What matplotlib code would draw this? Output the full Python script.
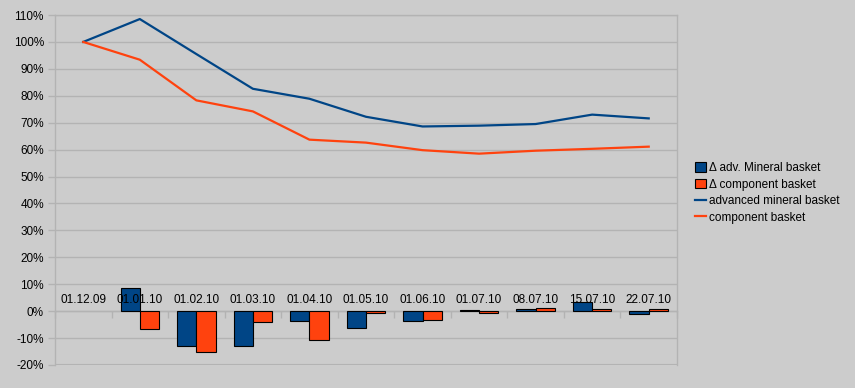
import numpy as np
import matplotlib.pyplot as plt
from matplotlib.transforms import blended_transform_factory

plt.rcParams['font.family'] = ['Liberation Sans', 'DejaVu Sans']

# Data
dates = ['01.12.09', '01.01.10', '01.02.10', '01.03.10', '01.04.10', '01.05.10',
         '01.06.10', '01.07.10', '08.07.10', '15.07.10', '22.07.10']
adv_mineral = [100, 108.5, 95.5, 82.6, 78.9, 72.2, 68.6, 68.9, 69.5, 73.0, 71.6]
component = [100, 93.4, 78.3, 74.2, 63.7, 62.6, 59.8, 58.5, 59.6, 60.3, 61.1]
d_adv_mineral = [np.nan, 8.5, -13.0, -13.0, -3.7, -6.3, -3.7, 0.3, 0.7, 3.3, -1.1]
d_component = [np.nan, -6.7, -15.2, -4.1, -10.8, -0.7, -3.3, -0.7, 1.1, 0.7, 0.7]

blue = '#004586'
orange = '#ff420e'
bg = '#cccccc'
grid_c = '#b3b3b3'

fig = plt.figure(figsize=(8.55, 3.88), dpi=100, facecolor=bg)
ax = fig.add_axes([0.0643, 0.0593, 0.7275, 0.902])
ax.set_facecolor(bg)

x = np.arange(len(dates))
w = 0.34
b1 = ax.bar(x - w / 2, d_adv_mineral, w, color=blue, edgecolor='black', linewidth=0.8,
            label='\u0394 adv. Mineral basket', zorder=3)
b2 = ax.bar(x + w / 2, d_component, w, color=orange, edgecolor='black', linewidth=0.8,
            label='\u0394 component basket', zorder=3)
l1, = ax.plot(x, adv_mineral, color=blue, lw=1.6, label='advanced mineral basket', zorder=4)
l2, = ax.plot(x, component, color=orange, lw=1.6, label='component basket', zorder=4)

ax.set_xlim(-0.5, len(dates) - 0.5)
ax.set_ylim(-20, 110)
ax.set_yticks(np.arange(-20, 111, 10))
ax.set_yticklabels([f'{v}%' for v in range(-20, 111, 10)], fontsize=8.5)
ax.yaxis.grid(True, color=grid_c, lw=1)
ax.set_axisbelow(True)
ax.tick_params(axis='y', length=5, width=1, color=grid_c, pad=3, labelcolor='black')

# x axis sits on the 0% line, labels drawn above it
ax.set_xticks([])
ax.set_xticks(np.arange(len(dates) + 1) - 0.5, minor=True)
ax.tick_params(axis='x', which='minor', length=5, width=1, color=grid_c, direction='out')
ax.spines['bottom'].set_position(('data', 0))
for s in ['left', 'right', 'bottom', 'top']:
    ax.spines[s].set_color(grid_c)
    ax.spines[s].set_linewidth(1)
ax.axhline(-20, color=grid_c, lw=1.5, zorder=1)

tr = blended_transform_factory(ax.transData, ax.transData)
for xi, lab in zip(x, dates):
    ax.text(xi, 4.2, lab, ha='center', va='center', fontsize=8.5, transform=tr, zorder=5)

fig.legend(handles=[b1, b2, l1, l2], loc='upper left', bbox_to_anchor=(0.813, 0.583),
           frameon=False, fontsize=8.5, handlelength=0.9, handleheight=0.9,
           handletextpad=0.3, labelspacing=0.4, borderpad=0, borderaxespad=0)

fig.savefig('out.png', dpi=100, facecolor=bg)
